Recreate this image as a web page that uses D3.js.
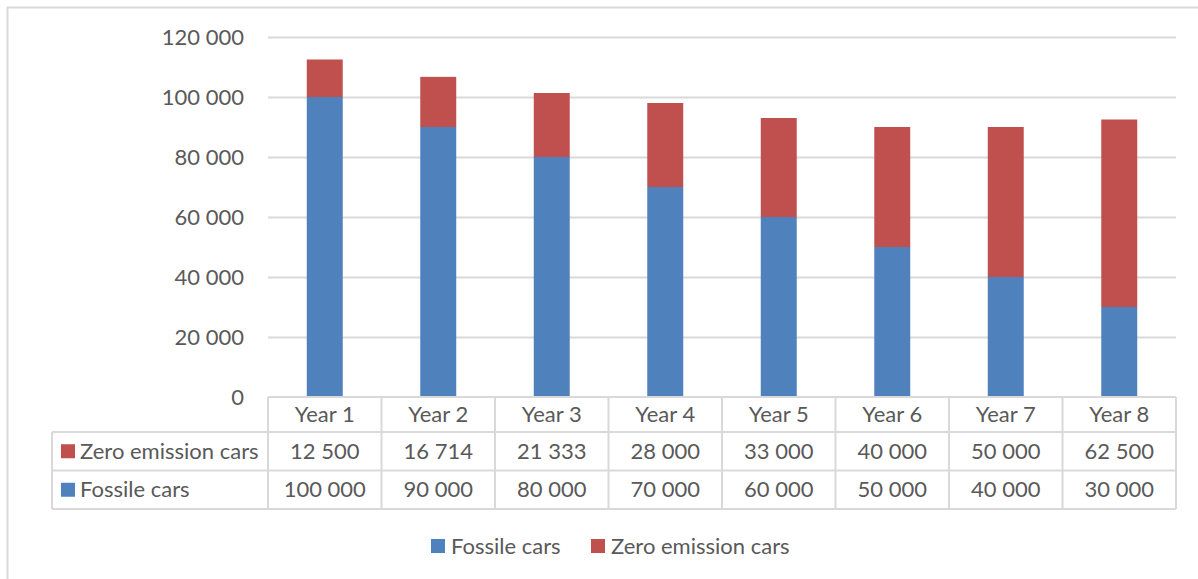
<!DOCTYPE html>
<html>
<head>
<meta charset="utf-8">
<script src="https://cdn.jsdelivr.net/npm/d3@7"></script>
<style>
  html, body { margin: 0; padding: 0; background: #fff; }
  svg text { font-family: Lato, "Open Sans", sans-serif; fill: #595959; }
</style>
</head>
<body>
<svg id="chart" width="1198" height="579"></svg>
<script>
const categories = ["Year 1", "Year 2", "Year 3", "Year 4", "Year 5", "Year 6", "Year 7", "Year 8"];
const fossile = [100000, 90000, 80000, 70000, 60000, 50000, 40000, 30000];
const zeroEmission = [12500, 16714, 21333, 28000, 33000, 40000, 50000, 62500];
const yTicks = [0, 20000, 40000, 60000, 80000, 100000, 120000];
const seriesNames = ["Fossile cars", "Zero emission cars"];
const seriesColors = ["#4F81BD", "#C0504D"];

const fmt = d3.formatLocale({decimal: ",", thousands: " ", grouping: [3], currency: ["", ""]}).format(",d");

const svg = d3.select("#chart");
const W = 1198, H = 579;
const plotLeft = 268, plotRight = 1176, plotTop = 37, plotBottom = 397;
const tableLeft = 52;
const rowY = [397, 432, 470.5, 509];
const gridColor = "#D9D9D9";
const fontSize = 22;

// outer frame
svg.append("line").attr("x1", 7.5).attr("x2", 7.5).attr("y1", 7).attr("y2", H).attr("stroke", gridColor).attr("stroke-width", 2);
svg.append("line").attr("x1", 7).attr("x2", W).attr("y1", 7.5).attr("y2", 7.5).attr("stroke", gridColor).attr("stroke-width", 2);

const y = d3.scaleLinear().domain([0, 120000]).range([plotBottom, plotTop]);
const x = d3.scaleBand().domain(categories).range([plotLeft, plotRight]).paddingInner(0.683).paddingOuter(0.3415);
const xCol = d3.scaleBand().domain(categories).range([plotLeft, plotRight]).padding(0);

// gridlines
svg.append("g").selectAll("line").data(yTicks.filter(d => d > 0)).join("line")
  .attr("x1", plotLeft).attr("x2", plotRight)
  .attr("y1", d => Math.round(y(d)) + 0.5).attr("y2", d => Math.round(y(d)) + 0.5)
  .attr("stroke", gridColor).attr("stroke-width", 2);

// y tick labels
svg.append("g").selectAll("text").data(yTicks).join("text")
  .attr("x", 244).attr("y", d => y(d)).attr("dy", "0.35em")
  .attr("text-anchor", "end").attr("font-size", fontSize)
  .text(d => fmt(d));

// stacked bars
const data = categories.map((c, i) => ({cat: c, fossile: fossile[i], zero: zeroEmission[i]}));
const stack = d3.stack().keys(["fossile", "zero"])(data);
svg.append("g").selectAll("g").data(stack).join("g")
  .attr("fill", (d, i) => seriesColors[i])
  .selectAll("rect").data(d => d).join("rect")
  .attr("x", d => x(d.data.cat)).attr("width", x.bandwidth())
  .attr("y", d => y(d[1])).attr("height", d => y(d[0]) - y(d[1]));

// data table
const tg = svg.append("g").attr("stroke", gridColor).attr("stroke-width", 2);
tg.append("line").attr("x1", plotLeft).attr("x2", plotRight).attr("y1", rowY[0]).attr("y2", rowY[0]);
[1, 2, 3].forEach(r => tg.append("line").attr("x1", tableLeft).attr("x2", plotRight).attr("y1", rowY[r]).attr("y2", rowY[r]));
tg.append("line").attr("x1", tableLeft).attr("x2", tableLeft).attr("y1", rowY[1]).attr("y2", rowY[3]);
const colEdges = categories.map(c => xCol(c)).concat([plotRight]);
tg.selectAll(".v").data(colEdges).join("line")
  .attr("x1", d => d).attr("x2", d => d).attr("y1", rowY[0]).attr("y2", rowY[3]);

// header
svg.append("g").selectAll("text").data(categories).join("text")
  .attr("x", d => xCol(d) + xCol.bandwidth() / 2).attr("y", (rowY[0] + rowY[1]) / 2).attr("dy", "0.35em")
  .attr("text-anchor", "middle").attr("font-size", fontSize).text(d => d);

// rows: zero emission then fossile
const rows = [
  {name: seriesNames[1], color: seriesColors[1], values: zeroEmission},
  {name: seriesNames[0], color: seriesColors[0], values: fossile}
];
rows.forEach((row, r) => {
  const cy = (rowY[r + 1] + rowY[r + 2]) / 2;
  svg.append("rect").attr("x", 61).attr("y", cy - 7).attr("width", 14).attr("height", 14).attr("fill", row.color);
  svg.append("text").attr("x", 80).attr("y", cy).attr("dy", "0.35em").attr("font-size", fontSize).text(row.name);
  svg.append("g").selectAll("text").data(row.values).join("text")
    .attr("x", (d, i) => xCol(categories[i]) + xCol.bandwidth() / 2).attr("y", cy).attr("dy", "0.35em")
    .attr("text-anchor", "middle").attr("font-size", fontSize).text(d => fmt(d));
});

// legend
const legendItems = [
  {name: seriesNames[0], color: seriesColors[0], x: 431},
  {name: seriesNames[1], color: seriesColors[1], x: 591}
];
const lg = svg.append("g");
legendItems.forEach(it => {
  lg.append("rect").attr("x", it.x).attr("y", 539).attr("width", 14).attr("height", 14).attr("fill", it.color);
  lg.append("text").attr("x", it.x + 20).attr("y", 546).attr("dy", "0.35em").attr("font-size", fontSize).text(it.name);
});
</script>
</body>
</html>
